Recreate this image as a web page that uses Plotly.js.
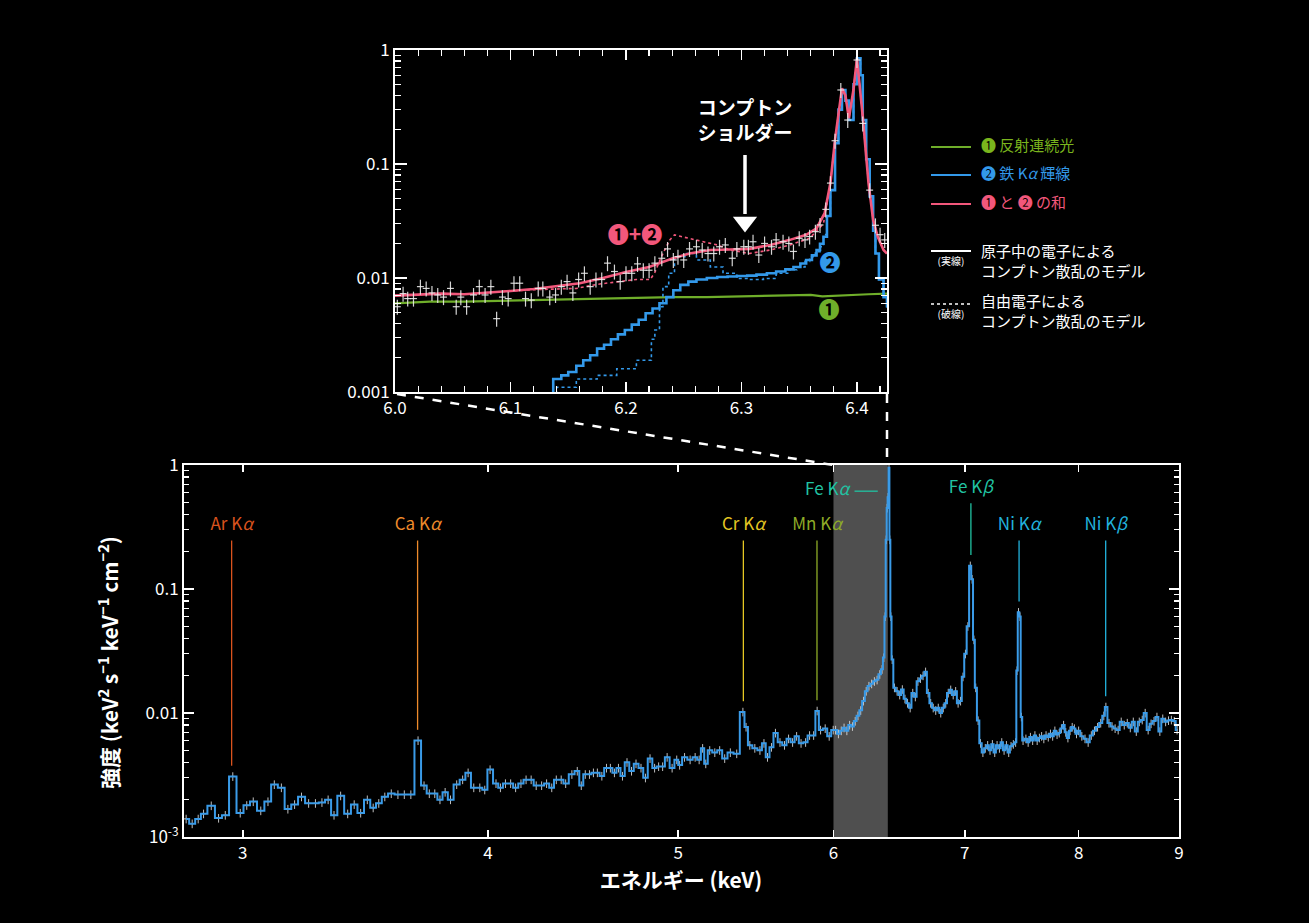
<!DOCTYPE html>
<html><head><meta charset="utf-8">
<script src="https://cdn.plot.ly/plotly-3.0.1.min.js"></script>
<style>html,body{margin:0;padding:0;background:#000;}#chart{width:1309px;height:923px;}</style>
</head><body><div id="chart"></div>
<script>
// ---------- main spectrum (observed, step histogram) ----------
const mainEnergy = [
2.807,2.827,2.847,2.865,2.891,2.916,2.939,2.965,2.991,3.014,
3.037,3.064,3.090,3.113,3.139,3.163,3.188,3.214,3.241,3.267,
3.292,3.316,3.339,3.365,3.393,3.419,3.445,3.472,3.496,3.519,
3.544,3.571,3.599,3.626,3.654,3.685,3.711,3.734,3.758,3.781,
3.804,3.828,3.856,3.883,3.908,3.934,3.962,3.985,
4.010,4.038,4.059,4.083,4.108,4.132,4.158,4.183,4.208,4.233,
4.260,4.285,4.311,4.334,4.359,4.382,4.414,4.442,4.463,4.484,
4.506,4.527,4.548,4.572,4.597,4.618,4.640,4.662,4.684,4.709,
4.734,4.759,4.787,4.812,4.838,4.864,4.887,4.910,4.936,4.965,
4.992,5.009,5.038,5.071,5.101,5.125,5.146,5.165,5.189,5.220,
5.250,5.281,5.316,5.356,5.395,5.415,5.439,5.471,5.504,5.530,
5.553,5.579,5.605,5.635,5.665,5.692,5.719,5.746,5.776,5.807,
5.834,5.862,5.886,5.910,5.942,5.970,5.998,
6.015,6.035,6.055,6.075,6.095,6.115,6.135,6.155,6.175,6.195,
6.215,6.235,6.255,6.275,6.295,6.315,6.335,6.352,6.365,6.375,
6.383,6.390,6.397,6.404,6.410,6.418,6.428,6.445,6.465,6.485,
6.505,6.525,6.545,6.565,6.585,6.605,6.625,6.645,6.665,6.685,
6.705,6.725,6.745,6.765,6.785,6.805,6.825,6.845,6.865,6.885,
6.905,6.925,6.945,6.965,6.985,7.005,7.025,7.045,7.060,7.075,
7.090,7.110,7.130,7.150,
7.170,7.190,7.210,7.230,7.250,7.270,7.290,7.310,7.330,7.350,
7.370,7.390,7.410,7.430,7.442,7.455,7.468,7.480,7.495,7.520,
7.540,7.560,7.580,7.600,7.620,7.640,7.660,7.680,7.700,7.720,
7.740,7.760,7.780,7.800,7.820,7.840,7.860,7.880,7.900,7.920,
7.940,7.960,7.980,8.000,8.030,8.060,8.090,8.120,8.150,8.180,
8.210,8.240,8.260,8.290,8.320,8.350,8.380,8.410,8.440,8.470,
8.500,8.530,8.560,8.590,8.620,8.650,8.680,8.710,8.740,8.770,
8.800,8.830,8.860,8.890,8.920,8.950,8.980];
const mainIntensity = [
0.0014,0.00128,0.0014,0.00154,0.00179,0.00142,0.0015,0.00308,0.00156,0.0018,
0.00193,0.00163,0.00193,0.00265,0.0025,0.00168,0.00183,0.00211,0.00187,0.00187,
0.0019,0.002,0.0015,0.00215,0.00154,0.00183,0.00156,0.002,0.00172,0.00187,
0.00211,0.00224,0.0022,0.0022,0.0022,0.0060,0.0026,0.00224,0.00224,0.002,
0.0023,0.002,0.00265,0.0029,0.0033,0.0025,0.0025,0.0024,
0.0035,0.0027,0.0025,0.0027,0.0027,0.0025,0.0027,0.0029,0.0029,0.0026,
0.0026,0.0027,0.0025,0.0029,0.0029,0.0027,0.0032,0.0034,0.0026,0.0032,
0.0032,0.0033,0.0033,0.0031,0.0036,0.0036,0.0033,0.0036,0.0031,0.0040,
0.0034,0.0039,0.0036,0.0030,0.0043,0.0036,0.0037,0.0037,0.0044,0.0036,
0.0042,0.0038,0.0044,0.0042,0.0044,0.0042,0.0052,0.0039,0.0050,0.0048,
0.0050,0.0043,0.0048,0.0047,0.0102,0.0077,0.0055,0.0052,0.0050,0.0057,
0.0044,0.0053,0.0069,0.0058,0.0055,0.0062,0.0058,0.0065,0.0057,0.0058,
0.0066,0.0066,0.0104,0.0073,0.0075,0.0065,0.0073,
0.0073,0.0068,0.0072,0.0076,0.0072,0.0080,0.0078,0.0086,0.0095,0.0105,
0.0125,0.0150,0.0165,0.0172,0.0180,0.0185,0.0205,0.0225,0.028,0.060,
0.25,0.45,0.55,0.95,0.25,0.06,0.027,0.016,0.015,0.014,
0.0155,0.013,0.012,0.011,0.0145,0.0135,0.018,0.019,0.020,0.0215,
0.0145,0.012,0.011,0.0105,0.011,0.010,0.011,0.012,0.0145,0.0154,
0.014,0.015,0.012,0.0125,0.0196,0.030,0.050,0.154,0.120,0.039,
0.016,0.0087,0.0057,0.0048,
0.0052,0.0055,0.0050,0.0056,0.0048,0.0055,0.0052,0.0058,0.0050,0.0055,
0.0048,0.0054,0.0056,0.0058,0.022,0.065,0.060,0.0093,0.0060,0.0062,
0.0058,0.0064,0.0060,0.0066,0.0060,0.0063,0.0065,0.0062,0.0066,0.0064,
0.0068,0.0065,0.0072,0.0067,0.0069,0.0075,0.0080,0.0070,0.0063,0.0072,
0.0077,0.0075,0.0068,0.0072,0.0065,0.0062,0.0058,0.0066,0.0072,0.0077,
0.0083,0.0095,0.0112,0.0083,0.0078,0.0075,0.0073,0.0085,0.0080,0.0083,
0.0076,0.0085,0.0071,0.0085,0.0088,0.0100,0.0073,0.0082,0.0086,0.0093,
0.0071,0.0090,0.0085,0.0087,0.0088,0.0086,0.0073];

// ---------- inset: observed points ----------
const insetDataEnergy = [6.002,6.007,6.011,6.016,6.022,6.027,6.032,6.037,6.042,6.048,
6.053,6.057,6.062,6.068,6.073,6.078,6.083,6.088,6.093,6.098,
6.103,6.108,6.113,6.118,6.124,6.128,6.134,6.139,6.144,6.149,
6.154,6.159,6.164,6.169,6.174,6.179,6.184,6.190,6.195,6.200,
6.205,6.210,6.215,6.220,6.225,6.231,6.236,6.241,6.245,6.250,
6.255,6.261,6.266,6.271,6.276,6.281,6.286,6.292,6.296,6.302,
6.306,6.310,6.315,6.320,6.326,6.330,6.336,6.341,6.345,6.350,
6.355,6.359,6.364,6.368,6.373,6.377,6.381,6.386,6.392,6.400,
6.405,6.411,6.416,6.420,6.424];
const insetDataIntensity = [0.0056,0.0073,0.0066,0.0066,0.0084,0.0081,0.0074,0.0071,0.0068,0.0081,
0.0056,0.0068,0.0056,0.0071,0.0084,0.0071,0.0084,0.0044,0.0068,0.0066,
0.0090,0.0090,0.0066,0.0064,0.0081,0.0081,0.0068,0.0071,0.0084,0.0093,
0.0074,0.0097,0.0110,0.0084,0.0097,0.0097,0.0135,0.0114,0.0093,0.0110,
0.0110,0.0133,0.0117,0.0117,0.0135,0.0149,0.0180,0.0144,0.0154,0.0144,
0.0180,0.0188,0.0176,0.0164,0.0164,0.0188,0.0195,0.0149,0.0180,0.0188,
0.0188,0.0208,0.0159,0.0201,0.0188,0.0216,0.0208,0.0201,0.0171,0.0223,
0.0216,0.0231,0.0255,0.0292,0.040,0.068,0.16,0.446,0.243,0.817,
0.227,0.059,0.029,0.024,0.0216];

// ---------- inset: models ----------
const reflEnergy = [6.000,6.030,6.060,6.090,6.120,6.150,6.180,6.210,6.240,6.270,6.300,6.330,6.360,6.370,6.380,6.390,6.410,6.426];
const reflIntensity = [0.0060,0.0062,0.0062,0.0063,0.0064,0.0065,0.0066,0.0067,0.0068,0.0068,0.0069,0.0070,0.0071,0.0069,0.0070,0.0071,0.0072,0.0073];

const feAtomEnergy = [6.132,6.137,6.144,6.150,6.157,6.163,6.169,6.175,6.181,6.187,6.193,6.199,6.205,6.211,6.217,6.223,6.229,6.235,6.241,6.247,
6.254,6.261,6.270,6.279,6.288,6.296,6.305,6.313,6.322,6.330,6.338,6.345,6.351,6.356,6.361,6.365,6.368,6.371,6.374,6.377,
6.381,6.384,6.387,6.390,6.393,6.397,6.400,6.403,6.405,6.408,6.411,6.414,6.416,6.419,6.423,6.426];
const feAtomIntensity = [0.0009,0.0013,0.0014,0.0015,0.0017,0.0019,0.0021,0.0024,0.0026,0.0029,0.0032,0.0035,0.0039,0.0043,0.0049,0.0054,0.0060,0.0068,0.0078,0.0087,
0.0093,0.0097,0.0100,0.0102,0.0103,0.0104,0.0105,0.0107,0.0110,0.0114,0.0119,0.0125,0.0134,0.0144,0.0158,0.0176,0.020,0.023,0.035,0.059,
0.152,0.30,0.446,0.36,0.243,0.50,0.845,0.60,0.243,0.11,0.052,0.026,0.0164,0.0097,0.0068,0.0055];

const feFreeEnergy = [6.132,6.140,6.157,6.175,6.192,6.209,6.215,6.222,6.225,6.229,6.232,6.237,6.242,6.251,6.261,6.273,6.284,6.296,6.307,6.319,
6.330,6.340,6.348,6.355,6.359,6.364,6.368,6.371,6.374,6.377,6.381,6.384,6.387,6.390,6.393,6.397,6.400,6.403,6.405,6.408,
6.411,6.414,6.416,6.419,6.423,6.426];
const feFreeIntensity = [0.0009,0.0011,0.0013,0.0014,0.0016,0.0019,0.0019,0.0029,0.0035,0.0056,0.0084,0.0110,0.0154,0.0164,0.0144,0.0125,0.0110,0.0099,0.0097,0.0099,
0.0110,0.0118,0.0125,0.0140,0.0154,0.0170,0.0188,0.024,0.035,0.059,0.152,0.30,0.446,0.36,0.243,0.50,0.845,0.60,0.243,0.11,
0.052,0.026,0.0164,0.0097,0.0068,0.0055];

const sumAtomEnergy = [6.000,6.020,6.040,6.060,6.080,6.100,6.120,6.140,6.160,6.180,6.200,6.220,6.240,6.255,6.273,6.290,6.307,6.325,6.342,6.356,
6.365,6.372,6.377,6.381,6.387,6.390,6.393,6.397,6.400,6.405,6.410,6.414,6.418,6.423,6.426];
const sumAtomIntensity = [0.0070,0.0071,0.0073,0.0072,0.0075,0.0077,0.0080,0.0085,0.0090,0.0100,0.0113,0.0125,0.0148,0.0164,0.0176,0.0178,0.0180,0.0195,0.0216,0.0239,
0.0272,0.037,0.068,0.163,0.461,0.40,0.252,0.45,0.845,0.26,0.068,0.0322,0.023,0.0176,0.0164];

const sumFreeEnergy = [6.000,6.020,6.040,6.060,6.080,6.100,6.120,6.140,6.157,6.175,6.192,6.209,6.221,6.225,6.229,6.232,6.238,6.242,6.247,6.261,
6.279,6.290,6.307,6.325,6.342,6.359,6.365,6.371,6.377,6.381,6.387,6.390,6.393,6.397,6.400,6.405,6.410,6.414,6.418,6.423,6.426];
const sumFreeIntensity = [0.0070,0.0071,0.0073,0.0072,0.0075,0.0077,0.0079,0.0080,0.0081,0.0088,0.0093,0.0097,0.0097,0.0112,0.0140,0.0164,0.0216,0.0239,0.0232,0.0216,
0.0195,0.0176,0.0164,0.0176,0.0195,0.0223,0.026,0.030,0.068,0.163,0.461,0.40,0.252,0.45,0.845,0.26,0.068,0.0322,0.023,0.0176,0.0164];

// ---------- emission line labels ----------
const lineLabels = ['Ar K<i>α</i>','Ca K<i>α</i>','Cr K<i>α</i>','Mn K<i>α</i>','Fe K<i>β</i>','Ni K<i>α</i>','Ni K<i>β</i>'];
const lineEnergies = [2.961, 3.683, 5.398, 5.885, 7.050, 7.460, 8.258];
const lineColors = ['#d9531e','#ee8b2b','#e5c723','#8eac27','#21c3a3','#22b2dd','#22b2dd'];
const lineTopValue = [0.246,0.246,0.246,0.246,0.491,0.246,0.246];
const labelValue = [0.325,0.325,0.325,0.325,0.638,0.325,0.325];

const mainYTicks = [0.001,0.01,0.1,1];
const mainYTickText = ['10<sup>-3</sup>','0.01','0.1','1'];
const insetYTickText = ['0.001','0.01','0.1','1'];
const mainXTicks = [3,4,5,6,7,8,9];
const insetXTicks = [6.0,6.1,6.2,6.3,6.4];
const logMinor = [0.002,0.003,0.004,0.005,0.006,0.007,0.008,0.009,0.02,0.03,0.04,0.05,0.06,0.07,0.08,0.09,0.2,0.3,0.4,0.5,0.6,0.7,0.8,0.9];

const W = 1309, H = 923;
const px = v => v / W, py = v => 1 - v / H;
const FONT = '"Noto Sans CJK JP","Noto Sans",sans-serif';
const GREEN = '#6fae2a', BLUE = '#3399ea', PINK = '#f2577b';

const traces = [];
// shaded zoom region
traces.push({x:[6.0,6.395,6.395,6.0], y:[0.001,0.001,1,1], fill:'toself', fillcolor:'#4f4f4f', line:{width:0}, mode:'lines', hoverinfo:'skip', xaxis:'x', yaxis:'y'});
// main spectrum
traces.push({x:mainEnergy, y:mainIntensity, mode:'lines', line:{shape:'hvh', color:'#3a9be8', width:2},
  error_y:{type:'percent', value:8, color:'rgba(225,225,225,0.85)', thickness:1, width:0},
  error_x:{type:'constant', value:0.007, color:'rgba(225,225,225,0.85)', thickness:1, width:0},
  xaxis:'x', yaxis:'y', hoverinfo:'skip'});
// leader lines for labels
lineEnergies.forEach((e,i)=>{
  let pk = 0;
  mainEnergy.forEach((x,j)=>{ if (Math.abs(x-e) < 0.03 && mainIntensity[j] > pk) pk = mainIntensity[j]; });
  traces.push({x:[e,e], y:[pk*1.22, lineTopValue[i]], mode:'lines', line:{color:lineColors[i], width:1.3}, xaxis:'x', yaxis:'y', hoverinfo:'skip'});
});
// Fe Ka short leader
traces.push({x:[6.15,6.32], y:[0.615,0.615], mode:'lines', line:{color:'#21c3a3', width:1.3}, xaxis:'x', yaxis:'y', hoverinfo:'skip'});
// emission line labels
traces.push({x:lineEnergies, y:labelValue, mode:'text', text:lineLabels, textposition:'middle center', cliponaxis:false,
  textfont:{color:lineColors, size:17, family:FONT}, xaxis:'x', yaxis:'y', hoverinfo:'skip'});

// inset models
traces.push({x:reflEnergy, y:reflIntensity, mode:'lines', line:{color:GREEN, width:2.2, shape:'linear'}, xaxis:'x2', yaxis:'y2', hoverinfo:'skip'});
traces.push({x:feFreeEnergy, y:feFreeIntensity, mode:'lines', line:{color:BLUE, width:1.6, dash:'dot', shape:'hv'}, xaxis:'x2', yaxis:'y2', hoverinfo:'skip'});
traces.push({x:feAtomEnergy, y:feAtomIntensity, mode:'lines', line:{color:BLUE, width:2.6, shape:'hv'}, xaxis:'x2', yaxis:'y2', hoverinfo:'skip'});
traces.push({x:sumFreeEnergy, y:sumFreeIntensity, mode:'lines', line:{color:PINK, width:1.6, dash:'dot', shape:'linear'}, xaxis:'x2', yaxis:'y2', hoverinfo:'skip'});
traces.push({x:sumAtomEnergy, y:sumAtomIntensity, mode:'lines', line:{color:PINK, width:2.6, shape:'linear'}, xaxis:'x2', yaxis:'y2', hoverinfo:'skip'});
traces.push({x:insetDataEnergy, y:insetDataIntensity, mode:'markers', marker:{size:1, color:'rgba(255,255,255,0)'},
  error_y:{type:'percent', value:15, color:'rgba(235,235,235,0.9)', thickness:1.2, width:0},
  error_x:{type:'constant', value:0.003, color:'rgba(235,235,235,0.9)', thickness:1.2, width:0},
  xaxis:'x2', yaxis:'y2', hoverinfo:'skip'});

// ---------- overlay (pixel) texts: legend, inset notes, x title ----------
const overlayTexts = [
  {x:745, y:123, t:'<b>コンプトン<br>ショルダー</b>', c:'white', s:19, p:'middle center'},
  {x:635, y:237, t:'<b>❶+❷</b>', c:PINK, s:21, p:'middle center'},
  {x:830, y:265, t:'<b>❷</b>', c:BLUE, s:21, p:'middle center'},
  {x:829, y:312, t:'<b>❶</b>', c:GREEN, s:21, p:'middle center'},
  {x:849, y:491, t:'Fe K<i>α</i>', c:'#21c3a3', s:17, p:'middle left'},
  {x:981, y:147, t:'❶ 反射連続光', c:'#7ab51d', s:15, p:'middle right'},
  {x:981, y:175, t:'❷ 鉄 K<i>α</i> 輝線', c:BLUE, s:15, p:'middle right'},
  {x:981, y:204, t:'❶ と ❷ の和', c:PINK, s:15, p:'middle right'},
  {x:981, y:263, t:'原子中の電子による<br>コンプトン散乱のモデル', c:'white', s:15, p:'middle right'},
  {x:981, y:313, t:'自由電子による<br>コンプトン散乱のモデル', c:'white', s:15, p:'middle right'},
  {x:951, y:262, t:'(実線)', c:'white', s:10, p:'middle center'},
  {x:951, y:315, t:'(破線)', c:'white', s:10, p:'middle center'},
  {x:681, y:883, t:'<b>エネルギー (keV)</b>', c:'white', s:21, p:'middle center'}
];
overlayTexts.forEach(o=>{
  traces.push({x:[o.x], y:[o.y], mode:'text', text:[o.t], textposition:o.p, cliponaxis:false,
    textfont:{color:o.c, size:o.s, family:FONT}, xaxis:'x3', yaxis:'y3', hoverinfo:'skip'});
});
// arrow (shaft + head) for Compton shoulder
traces.push({x:[745,745], y:[155,214], mode:'lines', line:{color:'white', width:3.5}, xaxis:'x3', yaxis:'y3', hoverinfo:'skip', cliponaxis:false});
traces.push({x:[745], y:[222], mode:'markers', marker:{symbol:'triangle-down', size:21, color:'white', line:{width:0}}, xaxis:'x3', yaxis:'y3', hoverinfo:'skip', cliponaxis:false});

const axCommon = {showline:true, linecolor:'white', linewidth:2, mirror:'allticks', ticks:'inside', tickcolor:'white',
  tickwidth:1.5, showgrid:false, zeroline:false, tickfont:{color:'white', size:17, family:FONT}};

const annotations = [
  {text:'<b>強度 (keV<sup>2</sup> s<sup>−1</sup> keV<sup>−1</sup> cm<sup>−2</sup>)</b>', xref:'paper', yref:'paper', x:px(108), y:py(663), textangle:-90, showarrow:false, xanchor:'center', yanchor:'middle', font:{color:'white', size:21, family:FONT}}
];

const shapes = [
  {type:'line', xref:'paper', yref:'paper', x0:px(931), x1:px(971), y0:py(147), y1:py(147), line:{color:GREEN, width:2}},
  {type:'line', xref:'paper', yref:'paper', x0:px(931), x1:px(971), y0:py(175), y1:py(175), line:{color:BLUE, width:2}},
  {type:'line', xref:'paper', yref:'paper', x0:px(931), x1:px(971), y0:py(204), y1:py(204), line:{color:PINK, width:2}},
  {type:'line', xref:'paper', yref:'paper', x0:px(931), x1:px(971), y0:py(251), y1:py(251), line:{color:'white', width:2}},
  {type:'line', xref:'paper', yref:'paper', x0:px(931), x1:px(971), y0:py(304), y1:py(304), line:{color:'white', width:1.5, dash:'dot'}},
  {type:'line', xref:'paper', yref:'paper', x0:px(397), x1:px(833), y0:py(394), y1:py(465), line:{color:'white', width:2.5, dash:'dash'}},
  {type:'line', xref:'paper', yref:'paper', x0:px(887), x1:px(887), y0:py(394), y1:py(465), line:{color:'white', width:2.5, dash:'dash'}}
];

const layout = {
  width:W, height:H, margin:{l:0,r:0,t:0,b:0}, paper_bgcolor:'#000', plot_bgcolor:'rgba(0,0,0,0)',
  showlegend:false, font:{family:FONT, color:'white'},
  xaxis: Object.assign({}, axCommon, {domain:[px(184), px(1179)], type:'log', range:[Math.log10(2.8), Math.log10(9.0)],
    tickmode:'array', tickvals:mainXTicks, ticktext:mainXTicks.map(String), ticklen:7, anchor:'y'}),
  yaxis: Object.assign({}, axCommon, {domain:[py(837), py(465)], type:'log', range:[-3,0], tickmode:'array',
    tickvals:mainYTicks, ticktext:mainYTickText, ticklen:10, anchor:'x',
    minor:{tickmode:'array', tickvals:logMinor, ticks:'inside', ticklen:5, tickcolor:'white', tickwidth:1.2}}),
  xaxis2: Object.assign({}, axCommon, {domain:[px(395), px(887)], range:[6.0, 6.426], tickmode:'array',
    tickvals:insetXTicks, ticktext:insetXTicks.map(v=>v.toFixed(1)), ticklen:10, anchor:'y2',
    minor:{dtick:0.02, tick0:6.0, ticks:'inside', ticklen:6, tickcolor:'white', tickwidth:1.2}}),
  yaxis2: Object.assign({}, axCommon, {domain:[py(392), py(50)], type:'log', range:[-3,0], tickmode:'array',
    tickvals:mainYTicks, ticktext:insetYTickText, ticklen:12, anchor:'x2',
    minor:{tickmode:'array', tickvals:logMinor, ticks:'inside', ticklen:6, tickcolor:'white', tickwidth:1.2}}),
  xaxis3: {domain:[0,1], range:[0,W], visible:false, showgrid:false, zeroline:false, anchor:'y3', fixedrange:true},
  yaxis3: {domain:[0,1], range:[H,0], visible:false, showgrid:false, zeroline:false, anchor:'x3', fixedrange:true},
  annotations: annotations, shapes: shapes
};
Plotly.newPlot('chart', traces, layout, {staticPlot:true, displayModeBar:false});
</script></body></html>
